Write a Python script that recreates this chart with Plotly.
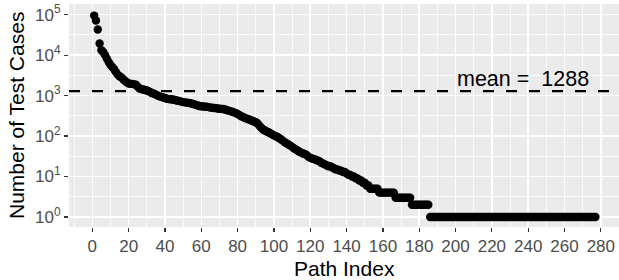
import numpy as np
import plotly.graph_objects as go

# ---- data ----
head_values = [95000, 72000, 43000, 19500, 13200, 12000, 10000, 8200, 6800, 5700,
               5100, 4500, 3800, 3300, 3000, 2800, 2550, 2300, 2150, 2000,
               1950, 1950, 1900, 1850, 1650, 1500, 1450, 1420, 1380, 1340,
               1280, 1220, 1150, 1110, 1060, 1000, 960, 930, 900, 870]
mid_values = [840, 820, 810, 800, 790, 770, 750, 730, 710, 690,
              680, 670, 660, 650, 630, 610, 590, 570, 555, 545,
              540, 535, 530, 520, 505, 500, 495, 490, 480, 475,
              470, 465, 455, 440, 425, 414, 400, 385, 370, 350,
              330, 310, 295, 280, 270, 260, 250, 240, 230, 220]
low_values = [205, 180, 160, 145, 138, 130, 124, 118, 110, 104,
              99, 95, 88, 82, 76, 70, 66, 62, 58, 54,
              50, 47, 44, 41, 39, 37, 36, 34, 31, 29,
              28, 27, 26, 25, 24, 22, 21, 20, 19, 18,
              18, 17, 16, 15, 15, 14, 14, 13, 13, 12,
              11, 11, 10, 10, 9, 9, 8, 8, 7, 7,
              6, 6, 5, 5, 5, 5, 5]
tail_values = ([4] * 9) + ([3] * 9) + ([2] * 10) + ([1] * 92)

test_cases = head_values + mid_values + low_values + tail_values
path_index = list(range(1, len(test_cases) + 1))
mean_value = 1288
mean_label = "mean =\u00a0\u00a01288"

x_tickvals = list(range(0, 281, 20))
y_tickvals = [1, 10, 100, 1000, 10000, 100000]
y_ticktext = ["10<sup>%d</sup>" % k for k in range(6)]
y_minor = [10 ** (k + 0.5) for k in range(-1, 6)]

# ---- layout constants ----
FONT = "Liberation Sans"
x_range = [-12.85, 290.0]
y_range = [-0.247, 5.264]

fig = go.Figure()
fig.add_trace(go.Scatter(
    x=path_index, y=test_cases, mode="markers",
    marker=dict(size=8.4, color="black", line=dict(width=0)),
    showlegend=False, hoverinfo="skip"))
fig.add_trace(go.Scatter(
    x=x_range, y=[mean_value, mean_value], mode="lines",
    line=dict(color="black", width=2.2, dash="11px,12px"),
    showlegend=False, hoverinfo="skip"))

fig.add_annotation(x=237, y=np.log10(mean_value), xref="x", yref="y",
                   text=mean_label, showarrow=False, yanchor="bottom",
                   yshift=-2, font=dict(family=FONT, size=21.5, color="black"))
fig.add_annotation(x=0.5, y=-0.188, xref="paper", yref="paper",
                   text="Path Index", showarrow=False, yanchor="middle",
                   font=dict(family=FONT, size=21, color="black"))
fig.add_annotation(x=-0.0955, y=0.5, xref="paper", yref="paper",
                   text="Number of Test Cases", showarrow=False, textangle=-90,
                   xanchor="center", yanchor="middle",
                   font=dict(family=FONT, size=21, color="black"))

fig.update_layout(
    width=619, height=280,
    margin=dict(l=69, r=0, t=4, b=53, pad=0),
    paper_bgcolor="white", plot_bgcolor="#EBEBEB",
    font=dict(family=FONT, color="#4D4D4D"),
    xaxis=dict(range=x_range, tickmode="array", tickvals=x_tickvals,
               showgrid=True, gridcolor="white", gridwidth=1.6,
               zeroline=False, showline=False,
               ticks="outside", ticklen=4, tickcolor="#333333", tickwidth=1.2,
               tickfont=dict(family=FONT, size=17, color="#4D4D4D"),
               minor=dict(dtick=10, tick0=0, showgrid=True, gridcolor="white",
                          gridwidth=0.8, ticks=""),
               automargin=False),
    yaxis=dict(type="log", range=y_range, tickmode="array",
               tickvals=y_tickvals, ticktext=y_ticktext,
               showgrid=True, gridcolor="white", gridwidth=1.6,
               zeroline=False, showline=False,
               ticks="outside", ticklen=4, tickcolor="#333333", tickwidth=1.2,
               tickfont=dict(family=FONT, size=17, color="#4D4D4D"),
               minor=dict(tickmode="array", tickvals=y_minor, showgrid=True,
                          gridcolor="white", gridwidth=0.8, ticks=""),
               automargin=False),
)

fig.write_html("out.html",
               config={"displayModeBar": False, "staticPlot": True},
               post_script="document.body.style.margin='0px';"
                           "document.body.style.overflow='hidden';")
